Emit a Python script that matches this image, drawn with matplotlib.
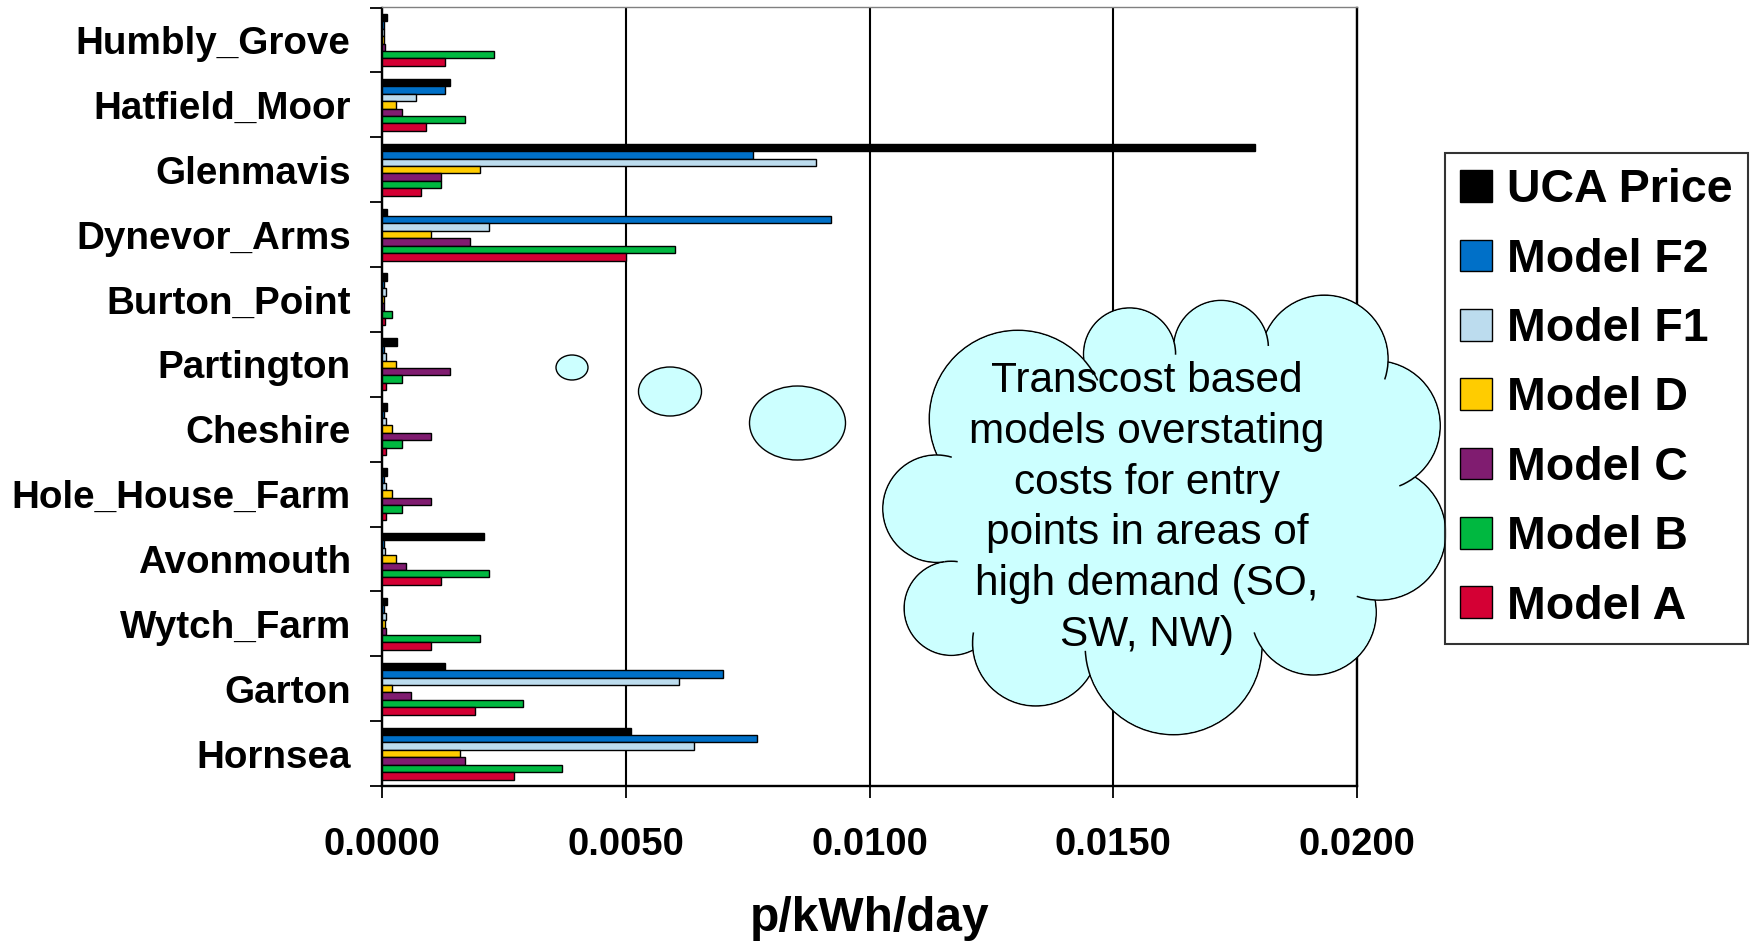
import numpy as np
import matplotlib
matplotlib.use("Agg")
import matplotlib.pyplot as plt
from matplotlib.patches import Circle, Ellipse, Polygon, Arc
from matplotlib.ticker import FixedLocator

plt.rcParams['font.family'] = ['Liberation Sans', 'DejaVu Sans']

# Entry points, listed top to bottom
categories = ["Humbly_Grove", "Hatfield_Moor", "Glenmavis", "Dynevor_Arms",
              "Burton_Point", "Partington", "Cheshire", "Hole_House_Farm",
              "Avonmouth", "Wytch_Farm", "Garton", "Hornsea"]

# p/kWh/day per entry point
uca_price = [0.0001, 0.0014, 0.0179, 0.0001, 0.0001, 0.0003, 0.0001, 0.0001, 0.0021, 0.0001, 0.0013, 0.0051]
model_f2 = [0.00005, 0.0013, 0.0076, 0.0092, 0.00005, 0.00005, 0.00005, 0.00005, 0.00005, 0.00005, 0.0070, 0.0077]
model_f1 = [0.00005, 0.0007, 0.0089, 0.0022, 0.00008, 0.00008, 0.00008, 0.00008, 0.00006, 0.00008, 0.0061, 0.0064]
model_d = [0.00005, 0.00028, 0.0020, 0.0010, 0.00005, 0.00028, 0.0002, 0.0002, 0.00028, 0.00006, 0.0002, 0.0016]
model_c = [0.00006, 0.0004, 0.0012, 0.0018, 0.00005, 0.0014, 0.0010, 0.0010, 0.0005, 0.00008, 0.0006, 0.0017]
model_b = [0.0023, 0.0017, 0.0012, 0.0060, 0.0002, 0.0004, 0.0004, 0.0004, 0.0022, 0.0020, 0.0029, 0.0037]
model_a = [0.0013, 0.0009, 0.0008, 0.0050, 0.00007, 0.00008, 0.00008, 0.00008, 0.0012, 0.0010, 0.0019, 0.0027]

series_names = ["UCA Price", "Model F2", "Model F1", "Model D", "Model C", "Model B", "Model A"]
series_values = [uca_price, model_f2, model_f1, model_d, model_c, model_b, model_a]
series_colors = ["#000000", "#0070C8", "#BCDCEE", "#FFCC00", "#801C70", "#00B840", "#D40034"]

x_ticks = [0.0, 0.005, 0.010, 0.015, 0.020]
x_tick_labels = ["0.0000", "0.0050", "0.0100", "0.0150", "0.0200"]

W, H = 1754, 941
fig = plt.figure(figsize=(W / 100, H / 100), dpi=100)
ax = fig.add_axes([382 / W, 1 - 786 / H, 975 / W, 778.5 / H])

n = len(categories)
centers = np.arange(n)[::-1]
group = 0.8
h = group / len(series_names)
bars = []
for k, (name, vals, col) in enumerate(zip(series_names, series_values, series_colors)):
    y = centers + group / 2 - h * (k + 0.5)
    b = ax.barh(y, vals, height=h, color=col, edgecolor="black", linewidth=1.0,
                label=name, zorder=3)
    bars.append(b)

ax.set_xlim(0, 0.02)
ax.set_ylim(-0.5, n - 0.5)
ax.set_xticks(x_ticks)
ax.set_xticklabels(x_tick_labels, fontsize=27.5, fontweight="bold")
ax.set_yticks(centers)
ax.set_yticklabels(categories, fontsize=27.8, fontweight="bold")
ax.yaxis.set_minor_locator(FixedLocator(np.arange(-0.5, n, 1.0)))
ax.tick_params(axis="y", which="major", length=0, pad=22.5)
ax.tick_params(axis="y", which="minor", length=8.6, width=1.3, direction="out")
ax.tick_params(axis="x", which="major", length=8.6, width=1.3, direction="out", pad=21)

ax.grid(axis="x", color="black", linewidth=1.5)
ax.set_axisbelow(True)
for side in ["left", "bottom", "right"]:
    ax.spines[side].set_linewidth(1.7)
    ax.spines[side].set_color("black")
ax.spines["top"].set_color("#808080")
ax.spines["top"].set_linewidth(1.0)

ax.set_xlabel("p/kWh/day", fontsize=34.5, fontweight="bold")
ax.xaxis.label.set_va("baseline")
ax.xaxis.set_label_coords(0.5005, -(931 - 786) / 778.5)

# Overlay in pixel units for the thought-cloud callout
ov = fig.add_axes([0, 0, 1, 1], zorder=2)
ov.set_xlim(0, W)
ov.set_ylim(H, 0)
ov.axis("off")
ov.patch.set_alpha(0)

cloud_fill = "#CCFFFF"

# Thought bubbles leading to the cloud
for (cx, cy, w, hh) in [(572, 367.5, 32, 25), (670, 391.5, 63, 49), (797.5, 423, 96, 74)]:
    ov.add_patch(Ellipse((cx, cy), w, hh, facecolor=cloud_fill, edgecolor="black", linewidth=1.0))

# Cloud outline: bumps spanning consecutive cusp points with a given bulge
cusps = np.array([(937, 455), (1084, 360), (1174, 342), (1266, 333), (1388, 362),
                  (1415, 477), (1375, 600), (1262, 648), (1090, 675), (973, 650),
                  (944.6, 561.7)], dtype=float)
bulges = [75, 43, 37, 52, 38, 50, 50, 73, 43, 55, 58]
centroid = cusps.mean(axis=0)
bumps = []
m = len(cusps)
for i in range(m):
    p1 = cusps[i]
    p2 = cusps[(i + 1) % m]
    d = p2 - p1
    c = np.hypot(*d)
    mid = (p1 + p2) / 2
    nrm = np.array([-d[1], d[0]]) / c
    if np.dot(nrm, mid - centroid) < 0:
        nrm = -nrm
    s = bulges[i]
    r = (c * c / 4 + s * s) / (2 * s)
    ctr = mid + nrm * (s - r)
    peak = mid + nrm * s
    bumps.append((ctr, r, p1, p2, peak))

for ctr, r, *_ in bumps:
    ov.add_patch(Circle(ctr, r, facecolor=cloud_fill, edgecolor="black", linewidth=1.1))
ov.add_patch(Polygon(cusps, closed=True, facecolor=cloud_fill, edgecolor="none"))
for ctr, r, *_ in bumps:
    ov.add_patch(Circle(ctr, r - 0.9, facecolor=cloud_fill, edgecolor="none"))


def ang(p, ctr):
    return np.degrees(np.arctan2(p[1] - ctr[1], p[0] - ctr[0])) % 360


for ctr, r, p1, p2, peak in bumps:
    a1, a2, ap = ang(p1, ctr), ang(p2, ctr), ang(peak, ctr)
    ccw = ((ap - a1) % 360) < ((a2 - a1) % 360)
    ext = 16
    if ccw:
        t1, t2 = a2, a2 + ext
    else:
        t1, t2 = a2 - ext, a2
    ov.add_patch(Arc(ctr, 2 * r, 2 * r, theta1=t1, theta2=t2, edgecolor="black", linewidth=1.1))

ov.text(1147, 508, "Transcost based\nmodels overstating\ncosts for entry\npoints in areas of\nhigh demand (SO,\nSW, NW)",
        ha="center", va="center", fontsize=30.5, linespacing=1.35, color="black")

leg = fig.legend(handles=bars, labels=series_names, loc="upper left",
                 bbox_to_anchor=(1445 / W, 1 - 153 / H),
                 prop={"size": 33.5, "weight": "bold"},
                 frameon=True, fancybox=False, shadow=False,
                 handlelength=0.67, handleheight=0.67, handletextpad=0.33,
                 labelspacing=0.545, borderpad=0.33, borderaxespad=0)
leg.get_frame().set_edgecolor("black")
leg.get_frame().set_linewidth(1.5)
leg.set_zorder(5)

fig.savefig("out.png", dpi=100)
